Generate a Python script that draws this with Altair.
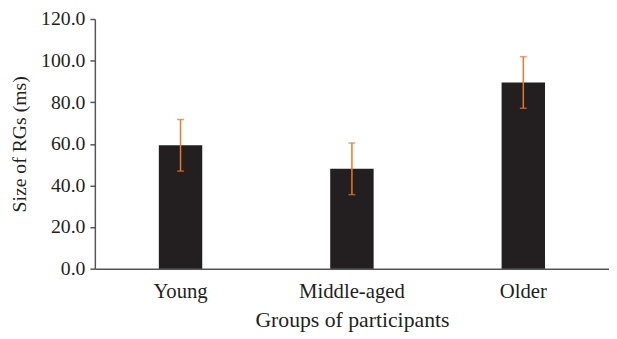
import altair as alt
import pandas as pd

groups = ["Young", "Middle-aged", "Older"]
means = [59.3, 48.0, 89.5]
errors = [12.4, 12.4, 12.4]

df = pd.DataFrame({
    "group": groups,
    "mean": means,
    "lo": [m - e for m, e in zip(means, errors)],
    "hi": [m + e for m, e in zip(means, errors)],
})

FONT = "Liberation Serif"
ORANGE = "#E8782A"

x = alt.X("group:N", sort=groups, title="Groups of participants",
          scale=alt.Scale(paddingInner=0, paddingOuter=0),
          axis=alt.Axis(labelAngle=0, ticks=False, tickSize=0, labelPadding=12,
                        labelFontSize=21, titleFontSize=22,
                        titlePadding=9, domainColor="#555555", domainWidth=1.5))

base = alt.Chart(df)

bars = base.mark_bar(size=44, color="#231f20").encode(
    x=x,
    y=alt.Y("mean:Q", title="Size of RGs (ms)",
            scale=alt.Scale(domain=[0, 120], nice=False),
            axis=alt.Axis(values=[0, 20, 40, 60, 80, 100, 120], format=".1f",
                          labelFontSize=20, titleFontSize=20,
                          tickSize=5, tickColor="#555555", domainColor="#555555",
                          domainWidth=1.5, tickWidth=1.5, labelPadding=5,
                          titlePadding=11, grid=False)),
)

rules = base.mark_rule(color=ORANGE, strokeWidth=1.5).encode(
    x=alt.X("group:N", sort=groups),
    y="lo:Q",
    y2="hi:Q",
)

caps_hi = base.mark_tick(color=ORANGE, size=7, thickness=1.5, orient="horizontal").encode(
    x=alt.X("group:N", sort=groups), y="hi:Q")
caps_lo = base.mark_tick(color=ORANGE, size=7, thickness=1.5, orient="horizontal").encode(
    x=alt.X("group:N", sort=groups), y="lo:Q")

chart = alt.layer(bars, rules, caps_hi, caps_lo).properties(
    width=521, height=253,
    autosize=alt.AutoSizeParams(type="none"),
    padding={"left": 88, "top": 9, "right": 0, "bottom": 62},
).configure_view(stroke=None).configure_axis(
    labelFont=FONT, titleFont=FONT,
    labelColor="#231f20", titleColor="#231f20", titleFontWeight="normal",
).properties(background="white")

chart.save("out.html", embed_options={"renderer": "svg", "actions": False})
